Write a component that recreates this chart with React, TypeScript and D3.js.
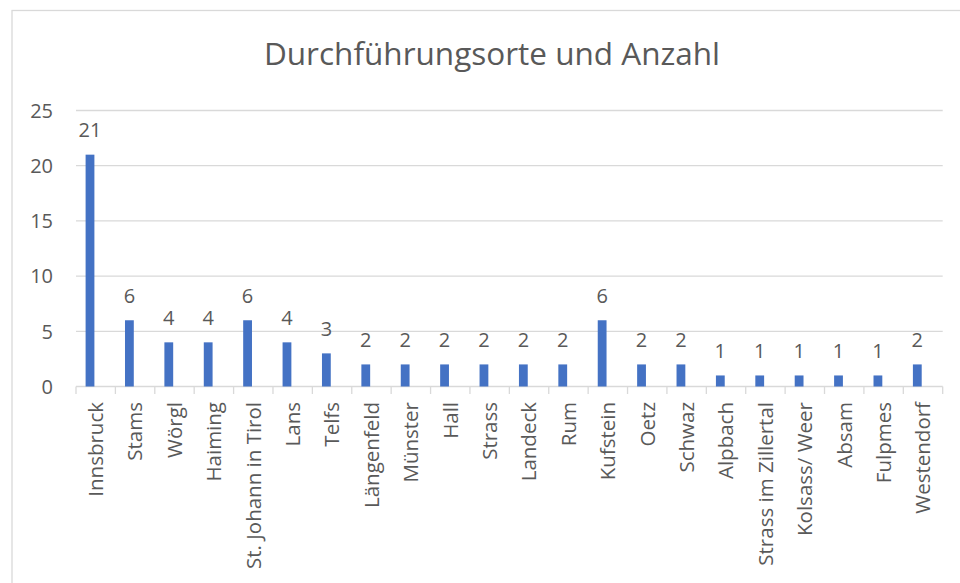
import React from "react";
import * as d3 from "d3";

const categories = [
  "Innsbruck", "Stams", "Wörgl", "Haiming", "St. Johann in Tirol", "Lans", "Telfs",
  "Längenfeld", "Münster", "Hall", "Strass", "Landeck", "Rum", "Kufstein", "Oetz",
  "Schwaz", "Alpbach", "Strass im Zillertal", "Kolsass/ Weer", "Absam", "Fulpmes", "Westendorf",
];
const values = [21, 6, 4, 4, 6, 4, 3, 2, 2, 2, 2, 2, 2, 6, 2, 2, 1, 1, 1, 1, 1, 2];
const yTicks = [0, 5, 10, 15, 20, 25];
const title = "Durchführungsorte und Anzahl";

const W = 960;
const H = 583;
const FONT = "'Open Sans', 'Noto Sans', sans-serif";
const TEXT = "#595959";
const GRID = "#d9d9d9";
const BAR = "#4472C4";

export default function App() {
  const x = d3.scaleBand<string>().domain(categories).range([76, 942.7]).padding(0);
  const y = d3.scaleLinear().domain([0, 25]).range([386.5, 110.5]);
  const bw = x.bandwidth();
  const barW = 8.8;
  const barOffset = -5.7;

  return (
    <svg
      width={W}
      height={H}
      style={{ position: "absolute", left: 0, top: 0, background: "#fff" }}
      fontFamily={FONT}
    >
      <rect x={12} y={10.5} width={W} height={H} fill="#fff" stroke={GRID} strokeWidth={1.3} />
      <text x={492} y={65} textAnchor="middle" fontSize={31.5} fill={TEXT}>
        {title}
      </text>
      {yTicks.map((t) => (
        <g key={t}>
          {t > 0 && (
            <line x1={76} x2={942.7} y1={y(t)} y2={y(t)} stroke={GRID} strokeWidth={1.3} />
          )}
          <text x={53} y={y(t)} dy="0.36em" textAnchor="end" fontSize={20} fill={TEXT}>
            {t}
          </text>
        </g>
      ))}
      <line x1={76} x2={942.7} y1={y(0)} y2={y(0)} stroke={GRID} strokeWidth={1.3} />
      {categories.map((c) => (
        <line key={"t" + c} x1={x(c)!} x2={x(c)!} y1={y(0)} y2={394} stroke={GRID} strokeWidth={1.3} />
      ))}
      <line x1={942.7} x2={942.7} y1={y(0)} y2={394} stroke={GRID} strokeWidth={1.3} />
      {categories.map((c, i) => {
        const cx = x(c)! + bw / 2 + barOffset;
        return (
          <g key={c}>
            <rect x={cx - barW / 2} y={y(values[i])} width={barW} height={y(0) - y(values[i])} fill={BAR} />
            <text x={cx} y={y(values[i]) - 17.5} textAnchor="middle" fontSize={20} fill={TEXT}>
              {values[i]}
            </text>
          </g>
        );
      })}
      {categories.map((c) => {
        const cx = x(c)! + bw / 2;
        return (
          <text
            key={"l" + c}
            transform={`translate(${cx},402) rotate(-90)`}
            dy="0.36em"
            textAnchor="end"
            fontSize={20.5}
            fill={TEXT}
          >
            {c}
          </text>
        );
      })}
    </svg>
  );
}
